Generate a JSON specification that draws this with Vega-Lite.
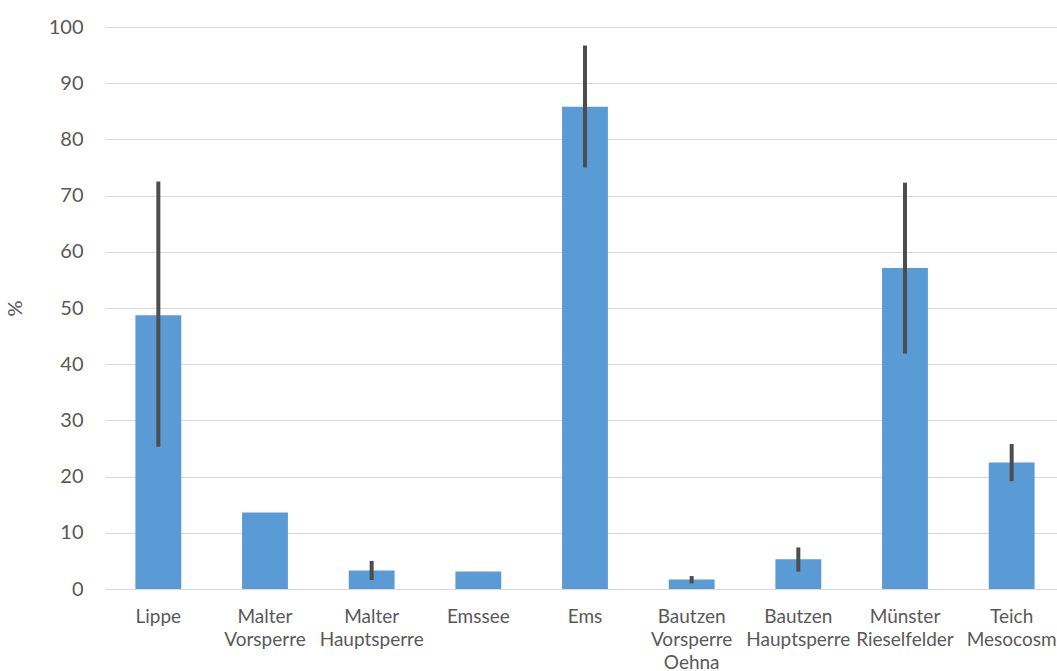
{
  "$schema": "https://vega.github.io/schema/vega-lite/v6.json",
  "autosize": {"type": "none"},
  "width": 960,
  "height": 562,
  "padding": {"left": 105, "top": 27, "right": -8, "bottom": 82},
  "background": "white",
  "config": {
    "view": {"stroke": null},
    "font": "Lato",
    "axis": {"labelFont": "Lato", "titleFont": "Lato", "labelColor": "#595959", "titleColor": "#595959"}
  },
  "data": {
    "values": [
      {"site": "Lippe", "value": 48.7, "lo": 25.3, "hi": 72.5},
      {"site": "Malter|Vorsperre", "value": 13.6, "lo": null, "hi": null},
      {"site": "Malter|Hauptsperre", "value": 3.3, "lo": 1.6, "hi": 5.0},
      {"site": "Emssee", "value": 3.1, "lo": null, "hi": null},
      {"site": "Ems", "value": 85.8, "lo": 75.0, "hi": 96.7},
      {"site": "Bautzen|Vorsperre|Oehna", "value": 1.7, "lo": 1.0, "hi": 2.3},
      {"site": "Bautzen|Hauptsperre", "value": 5.3, "lo": 3.1, "hi": 7.4},
      {"site": "Münster|Rieselfelder", "value": 57.1, "lo": 41.9, "hi": 72.3},
      {"site": "Teich|Mesocosm", "value": 22.5, "lo": 19.2, "hi": 25.8}
    ]
  },
  "encoding": {
    "x": {
      "field": "site",
      "type": "nominal",
      "sort": null,
      "scale": {"paddingInner": 0.57, "paddingOuter": 0.285},
      "axis": {
        "title": null,
        "labelAngle": 0,
        "labelExpr": "split(datum.label, '|')",
        "labelFontSize": 19,
        "labelLineHeight": 23,
        "labelPadding": 18,
        "labelBaseline": "top",
        "ticks": false,
        "domain": false,
        "labelOverlap": false,
        "labelBound": false
      }
    }
  },
  "layer": [
    {
      "mark": {"type": "bar", "color": "#5B9BD5"},
      "encoding": {
        "y": {
          "field": "value",
          "type": "quantitative",
          "scale": {"domain": [0, 100], "nice": false},
          "axis": {
            "title": "%",
            "titleFontSize": 20,
            "titleFontWeight": "normal",
            "titlePadding": 23,
            "values": [0, 10, 20, 30, 40, 50, 60, 70, 80, 90, 100],
            "labelFontSize": 20,
            "labelPadding": 22,
            "ticks": false,
            "domain": false,
            "gridColor": "#D9D9D9",
            "gridWidth": 1
          }
        }
      }
    },
    {
      "transform": [{"filter": "datum.hi != null"}],
      "mark": {"type": "rule", "color": "#4D4D4D", "strokeWidth": 4},
      "encoding": {
        "y": {"field": "lo", "type": "quantitative"},
        "y2": {"field": "hi"}
      }
    }
  ]
}
